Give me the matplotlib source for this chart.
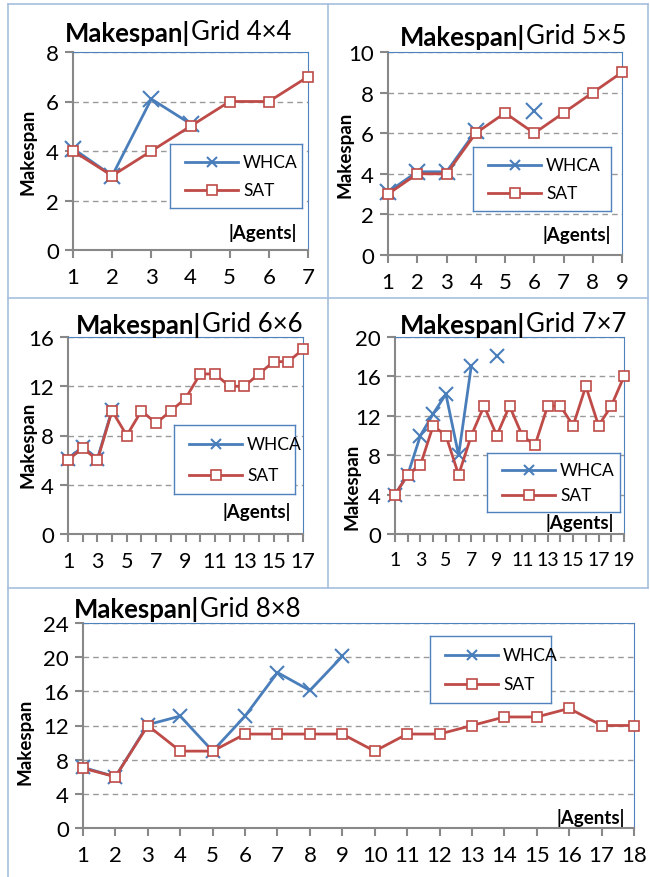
import numpy as np
import matplotlib
matplotlib.use('Agg')
import matplotlib.pyplot as plt
from matplotlib.lines import Line2D

nan = np.nan

# Grid 4x4
agents_4 = [1, 2, 3, 4, 5, 6, 7]
whca_4 = [4.1, 3.0, 6.1, 5.1, nan, nan, nan]
sat_4 = [4, 3, 4, 5, 6, 6, 7]

# Grid 5x5
agents_5 = [1, 2, 3, 4, 5, 6, 7, 8, 9]
whca_5 = [3.1, 4.1, 4.1, 6.1, nan, 7.1, nan, nan, nan]
sat_5 = [3, 4, 4, 6, 7, 6, 7, 8, 9]

# Grid 6x6
agents_6 = list(range(1, 18))
whca_6 = [6.1, 7.1, 6.1, 10.1] + [nan] * 13
sat_6 = [6, 7, 6, 10, 8, 10, 9, 10, 11, 13, 13, 12, 12, 13, 14, 14, 15]

# Grid 7x7
agents_7 = list(range(1, 20))
whca_7 = [4.0, 6.0, 10.0, 12.2, 14.2, 8.0, 17.1, nan, 18.1] + [nan] * 10
sat_7 = [4, 6, 7, 11, 10, 6, 10, 13, 10, 13, 10, 9, 13, 13, 11, 15, 11, 13, 16]

# Grid 8x8
agents_8 = list(range(1, 19))
whca_8 = [7.1, 6.0, 12.1, 13.1, 9.0, 13.1, 18.2, 16.1, 20.1] + [nan] * 9
sat_8 = [7, 6, 12, 9, 9, 11, 11, 11, 11, 9, 11, 11, 12, 13, 13, 14, 12, 12]

W, H = 650, 878
BLUE = '#4a7ebb'
RED = '#be4b48'
FRAME = '#4f81bd'
AXIS = '#888888'
PANEL = '#a6bfdd'
FONT = 'Lato'

plt.rcParams['font.family'] = [FONT, 'DejaVu Sans']

fig = plt.figure(figsize=(W / 100, H / 100), dpi=100)

# panel borders
for (x0, y0, x1, y1) in [(8, 5, 648, 5), (8, 5, 8, 878), (648, 5, 648, 589),
                         (328, 5, 328, 589), (8, 299, 648, 299), (8, 589, 648, 589)]:
    fig.add_artist(Line2D([x0 / W, x1 / W], [1 - y0 / H, 1 - y1 / H],
                          color=PANEL, lw=1.2))


def panel(box, x, whca, sat, ymax, ystep, xlab_step, title_y, split_x,
          grid_name, leg_box, agents_pos, ylab_pos, msize=9, xsize=16):
    l, t, r, b = box
    ax = fig.add_axes([l / W, 1 - b / H, (r - l) / W, (b - t) / H])
    ax.plot(x, whca, color=BLUE, lw=2, marker='x', ms=msize, mew=1.5, zorder=3,
            clip_on=False)
    ax.plot(x, sat, color=RED, lw=2, marker='s', ms=7.5, mfc='white', mec=RED,
            mew=1.2, zorder=4, clip_on=False)
    ax.set_xlim(x[0], x[-1])
    ax.set_ylim(0, ymax)
    ax.set_yticks(np.arange(0, ymax + 1, ystep))
    ax.set_xticks(x)
    ax.set_xticklabels([str(v) if (v - x[0]) % xlab_step == 0 else '' for v in x])
    ax.yaxis.grid(True, ls=(0, (4, 3)), color='#999999', lw=1)
    ax.set_axisbelow(True)
    for s in ['top', 'right']:
        ax.spines[s].set_color(FRAME)
        ax.spines[s].set_linewidth(0.8)
    for s in ['left', 'bottom']:
        ax.spines[s].set_color(AXIS)
        ax.spines[s].set_linewidth(1.5)
    ax.tick_params(direction='out', length=6, width=1.5, color=AXIS,
                   labelsize=16, pad=4)
    ax.tick_params(axis='x', pad=6, labelsize=xsize)

    # title: bold part + regular part
    fig.text(split_x / W, 1 - title_y / H, 'Makespan|', ha='right', va='center',
             fontsize=18.5, fontweight='bold')
    fig.text((split_x + 1) / W, 1 - title_y / H, grid_name, ha='left',
             va='center', fontsize=18.5)

    # legend box
    ll, lt, lr, lb = leg_box
    lax = fig.add_axes([ll / W, 1 - lb / H, (lr - ll) / W, (lb - lt) / H])
    lax.set_xlim(0, 1)
    lax.set_ylim(0, 1)
    lax.set_xticks([])
    lax.set_yticks([])
    for s in lax.spines.values():
        s.set_color(FRAME)
        s.set_linewidth(1)
    w = lr - ll
    x_a, x_b = 15 / w, 68 / w
    lax.plot([x_a, x_b], [0.72, 0.72], color=BLUE, lw=2)
    lax.plot([(x_a + x_b) / 2], [0.72], color=BLUE, marker='x', ms=7, mew=1.5)
    lax.plot([x_a, x_b], [0.28, 0.28], color=RED, lw=2)
    lax.plot([(x_a + x_b) / 2], [0.28], color=RED, marker='s', ms=7,
             mfc='white', mec=RED, mew=1.2)
    lax.text(x_b + 5 / w, 0.72, 'WHCA', va='center', ha='left', fontsize=12.5)
    lax.text(x_b + 5 / w, 0.28, 'SAT', va='center', ha='left', fontsize=12.5)

    ax_x, ax_y = agents_pos
    fig.text(ax_x / W, 1 - ax_y / H, '|Agents|', ha='center', va='center',
             fontsize=13.5, fontweight='bold')
    yx, yy = ylab_pos
    fig.text(yx / W, 1 - yy / H, 'Makespan', ha='center', va='center',
             rotation=90, fontsize=13.5, fontweight='bold')
    return ax


panel((73, 53, 308, 251), agents_4, whca_4, sat_4, 8, 2, 1,
      33, 190, 'Grid 4×4', (170, 145, 302, 209), (263, 233), (28, 152),
      msize=12)
panel((388, 53, 622, 256), agents_5, whca_5, sat_5, 10, 2, 1,
      37, 525, 'Grid 5×5', (473, 148, 611, 212), (577, 235), (345, 155),
      msize=11)
panel((68, 338, 303, 535), agents_6, whca_6, sat_6, 16, 4, 2,
      325, 201, 'Grid 6×6', (174, 426, 295, 495), (257, 512), (28, 445),
      msize=10, xsize=15.5)
panel((395, 338, 624, 535), agents_7, whca_7, sat_7, 20, 4, 2,
      325, 525, 'Grid 7×7', (487, 454, 620, 513), (580, 523), (352, 487),
      msize=10, xsize=14)
panel((83, 624, 634, 829), agents_8, whca_8, sat_8, 24, 4, 1,
      610, 199, 'Grid 8×8', (430, 637, 551, 704), (591, 818), (25, 742),
      msize=10)

fig.savefig('out.png', dpi=100, facecolor='white')
